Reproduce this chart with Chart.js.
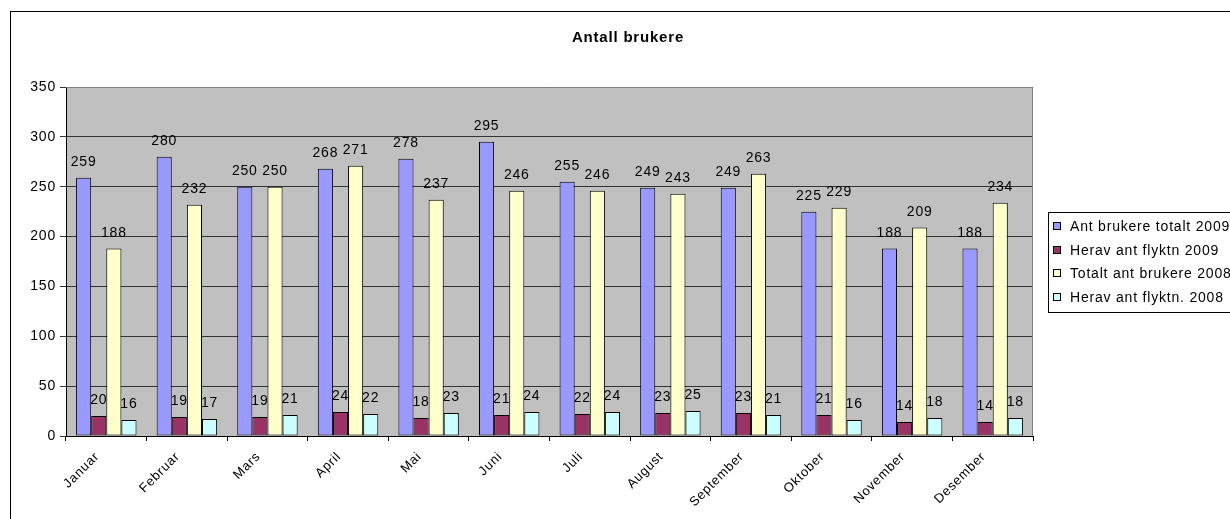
<!DOCTYPE html>
<html>
<head>
<meta charset="utf-8">
<script src="https://cdn.jsdelivr.net/npm/chart.js@4"></script>
<style>
    html, body { margin: 0; padding: 0; background: #fff; overflow: hidden; }
    #frame { position: absolute; left: 10px; top: 11px; width: 1300px; height: 600px; border: 1px solid #000; }
    #myChart { position: absolute; left: 0; top: 0; }
</style>
</head>
<body>
<div id="frame"></div>
<canvas id="myChart" width="1230" height="519"></canvas>
<script>
"use strict";

const months = ["Januar", "Februar", "Mars", "April", "Mai", "Juni", "Juli", "August", "September", "Oktober", "November", "Desember"];
const totalt2009 = [259, 280, 250, 268, 278, 295, 255, 249, 249, 225, 188, 188];
const flyktn2009 = [20, 19, 19, 24, 18, 21, 22, 23, 23, 21, 14, 14];
const totalt2008 = [188, 232, 250, 271, 237, 246, 246, 243, 263, 229, 209, 234];
const flyktn2008 = [16, 17, 21, 22, 23, 24, 24, 25, 21, 16, 18, 18];
const yTicks = [0, 50, 100, 150, 200, 250, 300, 350];

const font = "Arial, 'Liberation Sans', sans-serif";

// grey plot background + border round it; Excel text is a bit wider, so widen letters
const plotBackground = {
    id: "plotBackground",
    beforeDraw(chart) {
        const a = chart.chartArea;
        const ctx = chart.ctx;
        ctx.letterSpacing = "0.8px";
        ctx.save();
        ctx.fillStyle = "#c0c0c0";
        ctx.fillRect(a.left, a.top, a.right - a.left, a.bottom - a.top);
        ctx.restore();
    },
    afterDraw(chart) {
        const a = chart.chartArea;
        const ctx = chart.ctx;
        ctx.save();
        ctx.strokeStyle = "#808080";
        ctx.lineWidth = 1;
        ctx.beginPath();
        ctx.moveTo(a.left, a.top + 0.5);
        ctx.lineTo(a.right - 0.5, a.top + 0.5);
        ctx.lineTo(a.right - 0.5, a.bottom);
        ctx.stroke();
        ctx.restore();
    }
};

// value labels above each bar
const valueLabels = {
    id: "valueLabels",
    afterDatasetsDraw(chart) {
        const ctx = chart.ctx;
        ctx.save();
        ctx.font = "14px " + font;
        ctx.fillStyle = "#000";
        ctx.textAlign = "center";
        ctx.textBaseline = "alphabetic";
        chart.data.datasets.forEach(function (ds, i) {
            chart.getDatasetMeta(i).data.forEach(function (bar, j) {
                ctx.fillText(String(ds.data[j]), bar.x, bar.y - 12);
            });
        });
        ctx.restore();
    }
};

// title and boxed legend drawn the Excel way
const excelDecor = {
    id: "excelDecor",
    afterDraw(chart) {
        const ctx = chart.ctx;
        ctx.save();
        ctx.fillStyle = "#000";
        ctx.font = "bold 15px " + font;
        ctx.textAlign = "center";
        ctx.textBaseline = "middle";
        ctx.fillText("Antall brukere", 628, 38);

        ctx.strokeStyle = "#000";
        ctx.lineWidth = 1;
        ctx.strokeRect(1048.5, 212.5, 300, 100);
        ctx.font = "14px " + font;
        ctx.textAlign = "left";
        chart.data.datasets.forEach(function (ds, i) {
            const y = 226 + i * 23.7;
            ctx.fillStyle = ds.backgroundColor;
            ctx.fillRect(1053.5, Math.round(y) - 3.5, 7, 7);
            ctx.strokeRect(1053.5, Math.round(y) - 3.5, 7, 7);
            ctx.fillStyle = "#000";
            ctx.fillText(ds.label, 1070, y + 1);
        });
        ctx.restore();
    }
};

function makeSet(label, data, color) {
    return {
        label: label,
        data: data,
        backgroundColor: color,
        borderColor: "#000",
        borderWidth: 1,
        borderSkipped: false
    };
}

const ctx = document.getElementById("myChart");
const chart = new Chart(ctx, {
    type: "bar",
    data: {
        labels: months,
        datasets: [
            makeSet("Ant brukere totalt 2009", totalt2009, "#9999ff"),
            makeSet("Herav ant flyktn 2009", flyktn2009, "#993366"),
            makeSet("Totalt ant brukere 2008", totalt2008, "#ffffcc"),
            makeSet("Herav ant flyktn. 2008", flyktn2008, "#ccffff")
        ]
    },
    options: {
        responsive: false,
        animation: false,
        devicePixelRatio: 1,
        layout: { padding: { left: 10, top: 87, right: 197, bottom: 0 } },
        datasets: { bar: { categoryPercentage: 0.75, barPercentage: 1 } },
        plugins: {
            legend: { display: false },
            title: { display: false },
            tooltip: { enabled: false }
        },
        scales: {
            x: {
                afterFit: function (s) { s.height = 83; },
                grid: { offset: true, drawOnChartArea: false, color: "#000", tickLength: 5 },
                border: { color: "#000" },
                ticks: {
                    color: "#000",
                    font: { family: font, size: 13 },
                    minRotation: 45,
                    maxRotation: 45,
                    labelOffset: -9,
                    padding: 8
                }
            },
            y: {
                min: 0,
                max: 350,
                afterFit: function (s) { s.width = 56; },
                afterBuildTicks: function (s) { s.ticks = yTicks.map(function (v) { return { value: v }; }); },
                grid: { color: "#333", tickLength: 6 },
                border: { color: "#000" },
                ticks: {
                    color: "#000",
                    font: { family: font, size: 14 },
                    padding: 4
                }
            }
        }
    },
    plugins: [plotBackground, valueLabels, excelDecor]
});
</script>
</body>
</html>
